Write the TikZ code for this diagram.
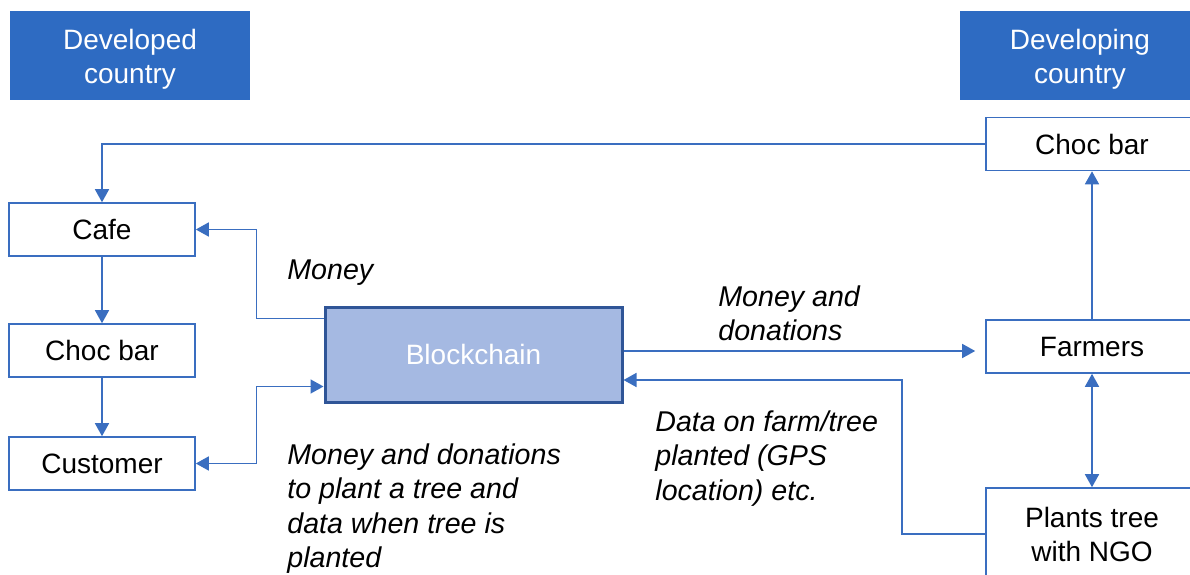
\documentclass[tikz,border=0pt]{standalone}
\usepackage{fontspec}
\setmainfont{Liberation Sans}
\usepackage{xcolor}
\usetikzlibrary{arrows.meta, positioning, calc}
\definecolor{hdrblue}{HTML}{2E6BC2}
\definecolor{lineblue}{HTML}{3A6EC0}
\definecolor{chainfill}{HTML}{A5B9E2}
\definecolor{chainedge}{HTML}{2F5597}
\tikzset{
    arr/.tip={Triangle[width=7pt,length=6.5pt]},
    header/.style={fill=hdrblue, text=white, align=center, minimum width=120pt, minimum height=44.5pt, inner sep=0pt, font=\fontsize{14}{16.8}\selectfont},
    box/.style={draw=lineblue, line width=0.8pt, fill=white, minimum width=93pt, minimum height=26.5pt, inner sep=0pt, align=center, font=\fontsize{14}{17}\selectfont},
    chainbox/.style={draw=chainedge, line width=1.5pt, fill=chainfill, text=white, minimum width=148.5pt, minimum height=47.5pt, inner sep=0pt, font=\fontsize{14}{17}\selectfont},
    flow/.style={draw=lineblue, line width=0.8pt, -arr},
    both/.style={draw=lineblue, line width=0.8pt, arr-arr},
    note/.style={anchor=north west, inner sep=0pt, align=left, font=\fontsize{14.3}{17.25}\selectfont\itshape}
}

\begin{document}
\begin{tikzpicture}[x=0.5pt, y=-0.5pt]
    \path[use as bounding box, clip] (0,0) rectangle (1190,574);
    % headers
    \node[header] (devd) at (130,55.5) {\rule{0pt}{14pt}Developed\\country};
    \node[header] (devg) at (1080,55.5) {\rule{0pt}{14pt}Developing\\country};
    % left column
    \node[box] (cafe) at (102,229.5) {Cafe};
    \node[box] (chocL) at (102,350.5) {Choc bar};
    \node[box] (cust) at (102,463.5) {Customer};
    % centre
    \node[chainbox] (chain) at (473.5,354.5) {Blockchain};
    % right column
    \node[box, minimum width=106pt] (chocR) at (1092,144) {Choc bar};
    \node[box, minimum width=106pt] (farm) at (1092,346.5) {Farmers};
    \node[box, minimum width=106pt, minimum height=46pt] (plant) at (1092,534) {Plants tree\\with NGO};
    % connectors
    \draw[flow] (chocR.west) -| (cafe.north);
    \draw[flow] ([yshift=-6.5pt]chain.north west) -- ++(-67,0) |- (cafe.east);
    \draw[flow] (cafe.south) -- (chocL.north);
    \draw[flow] (chocL.south) -- (cust.north);
    \draw[both] ([yshift=8.5pt]chain.south west) -- ++(-67,0) |- (cust.east);
    \draw[flow, shorten >=5pt] ([yshift=1.75pt]chain.east) -- ([yshift=1.75pt]chain.east -| farm.west);
    \draw[flow] (plant.west) -- ++(-83,0) |- ([yshift=-12.75pt]chain.east);
    \draw[flow] (farm.north) -- (chocR.south);
    \draw[both] (farm.south) -- (plant.north);
    % labels
    \node[note] (lmoney) at (287,259) {Money};
    \node[note] (lfarm) at (718,285) {Money and\\donations};
    \node[note] (lcust) at (287,443) {Money and donations\\to plant a tree and\\data when tree is\\planted};
    \node[note] (ldata) at (655,410) {Data on farm/tree\\planted (GPS\\location) etc.};
\end{tikzpicture}
\end{document}
